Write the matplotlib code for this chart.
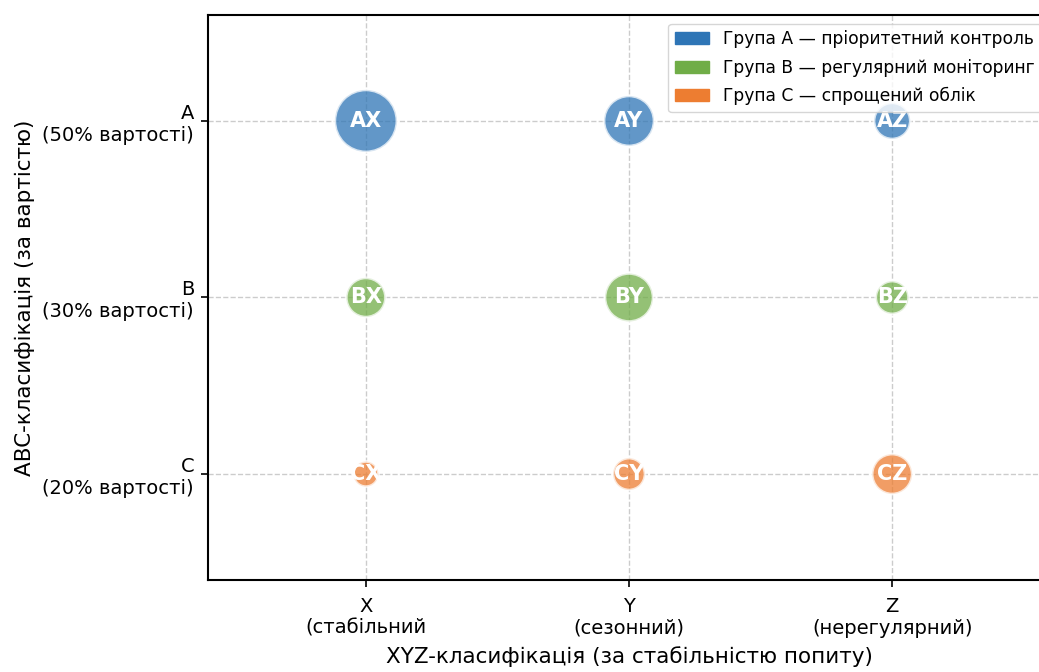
import numpy as np
import matplotlib
matplotlib.use('Agg')
import matplotlib.pyplot as plt
from matplotlib.patches import Patch

# categories
xyz_labels = ['X\n(стабільний', 'Y\n(сезонний)', 'Z\n(нерегулярний)']
abc_labels = ['C\n(20% вартості)', 'B\n(30% вартості)', 'A\n(50% вартості)']

# cells: code, x index, y index, bubble size
codes = ['AX', 'AY', 'AZ', 'BX', 'BY', 'BZ', 'CX', 'CY', 'CZ']
x_idx = [0, 1, 2, 0, 1, 2, 0, 1, 2]
y_idx = [2, 2, 2, 1, 1, 1, 0, 0, 0]
sizes = [2000, 1300, 680, 800, 1200, 560, 330, 530, 830]
groups = ['A', 'A', 'A', 'B', 'B', 'B', 'C', 'C', 'C']

group_colors = {'A': '#2e75b6', 'B': '#70ad47', 'C': '#ed7d31'}
group_names = ['Група A — пріоритетний контроль',
               'Група B — регулярний моніторинг',
               'Група C — спрощений облік']

fig = plt.figure(figsize=(10.39, 6.72), dpi=100)
ax = fig.add_axes([0.2002, 0.1369, 0.8104, 0.8408])

ax.scatter(x_idx, y_idx, s=sizes, c=[group_colors[g] for g in groups],
           alpha=0.75, edgecolors='white', linewidths=2, zorder=3)
for code, x, y in zip(codes, x_idx, y_idx):
    ax.text(x, y, code, ha='center', va='center', color='white',
            fontsize=15, fontweight='bold', zorder=4)

ax.set_xlim(-0.6, 2.6)
ax.set_ylim(-0.6, 2.6)
ax.set_xticks([0, 1, 2])
ax.set_xticklabels(xyz_labels, fontsize=14)
ax.set_yticks([0, 1, 2])
ax.set_yticklabels(abc_labels, fontsize=14)
ax.tick_params(length=5, width=1.2, pad=5)
ax.tick_params(axis='x', pad=7)
ax.set_xlabel('XYZ-класифікація (за стабільністю попиту)', fontsize=15.5, labelpad=6)
ax.set_ylabel('ABC-класифікація (за вартістю)', fontsize=15.5, labelpad=5)
ax.grid(True, linestyle='--', color='#cccccc', linewidth=1, zorder=0)
for sp in ax.spines.values():
    sp.set_linewidth(1.5)

handles = [Patch(color=group_colors[g], label=n) for g, n in zip(['A', 'B', 'C'], group_names)]
ax.legend(handles=handles, loc='upper right', fontsize=12.3, labelspacing=0.6)

fig.savefig('out.png', dpi=100)
